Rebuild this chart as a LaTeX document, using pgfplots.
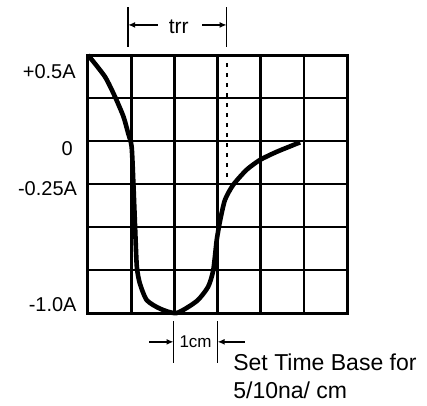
\documentclass[border=0pt]{standalone}
\usepackage{fontspec}
\setmainfont{Liberation Sans}
\usepackage{pgfplots}
\pgfplotsset{compat=1.18}
\usetikzlibrary{arrows.meta}
\newcommand\labfont{\fontsize{20}{23}\selectfont}

\begin{document}
\begin{tikzpicture}
\begin{axis}[
    x=43.2pt, y=43pt,
    xmin=0, xmax=6, ymin=0, ymax=6,
    axis line style={line width=3pt},
    xtick={0,...,6}, ytick={0,...,6},
    xticklabels={,,,,,,}, yticklabels={,,,,,,},
    major tick length=0pt,
    grid=major,
    major grid style={black, line width=2.8pt},
    clip=false,
]
% reverse recovery current trace
\addplot[black, line width=4.6pt, smooth, tension=0.4, line join=round]
    coordinates {(0,6) (0.39,5.5) (0.625,5.03) (0.82,4.57) (0.93,4.18) (1.01,3.87)
                 (1.05,3.02) (1.09,2.0) (1.13,1.08) (1.2,0.69) (1.36,0.30)
                 (1.67,0.10) (2.05,0.0) (2.52,0.28) (2.78,0.61) (2.9,1.0)
                 (2.98,1.70) (3.06,2.16) (3.17,2.63) (3.36,2.98) (3.67,3.33)
                 (3.98,3.56) (4.37,3.75) (4.91,3.97)};

% current scale labels
\node[anchor=east, inner sep=0pt, font=\labfont] at (axis cs:-0.28,5.61) {+0.5A};
\node[anchor=east, inner sep=0pt, font=\labfont] at (axis cs:-0.35,3.83) {0};
\node[anchor=east, inner sep=0pt, font=\labfont] at (axis cs:-0.25,2.90) {-0.25A};
\node[anchor=east, inner sep=0pt, font=\labfont] at (axis cs:-0.26,0.19) {-1.0A};

% trr marker
\draw[line width=1.4pt] (axis cs:0.93,6.19) -- (axis cs:0.93,7.12);
\draw[line width=1.4pt] (axis cs:3.21,6.19) -- (axis cs:3.21,7.12);
\draw[line width=1.4pt, -{Latex[length=7pt,width=6pt]}] (axis cs:1.62,6.70) -- (axis cs:0.93,6.70);
\draw[line width=1.4pt, -{Latex[length=7pt,width=6pt]}] (axis cs:2.64,6.70) -- (axis cs:3.21,6.70);
\node[font=\fontsize{21}{24}\selectfont, inner sep=0pt] at (axis cs:2.10,6.66) {trr};
\draw[line width=2pt, dash pattern=on 4pt off 6pt] (axis cs:3.21,5.81) -- (axis cs:3.21,3.02);

% 1cm marker
\draw[line width=1.4pt] (axis cs:1.98,-0.19) -- (axis cs:1.98,-1.16);
\draw[line width=1.4pt] (axis cs:3.0,-0.19) -- (axis cs:3.0,-1.16);
\draw[line width=1.4pt, -{Latex[length=7pt,width=6pt]}] (axis cs:1.42,-0.67) -- (axis cs:1.98,-0.67);
\draw[line width=1.4pt, -{Latex[length=7pt,width=6pt]}] (axis cs:3.63,-0.67) -- (axis cs:3.0,-0.67);
\node[font=\fontsize{17}{20}\selectfont, inner sep=0pt] at (axis cs:2.49,-0.67) {1cm};

\node[anchor=base west, font=\fontsize{23}{26}\selectfont, inner sep=0pt] at (axis cs:3.36,-1.33) {Set Time Base for};
\node[anchor=base west, font=\fontsize{23}{26}\selectfont, inner sep=0pt] at (axis cs:3.36,-1.98) {5/10na/ cm};

\coordinate (bbl) at (axis cs:-2.037,-2.14);
\coordinate (btr) at (axis cs:7.847,7.28);
\end{axis}
\pgfresetboundingbox
\path (bbl) rectangle (btr);
\end{tikzpicture}
\end{document}
